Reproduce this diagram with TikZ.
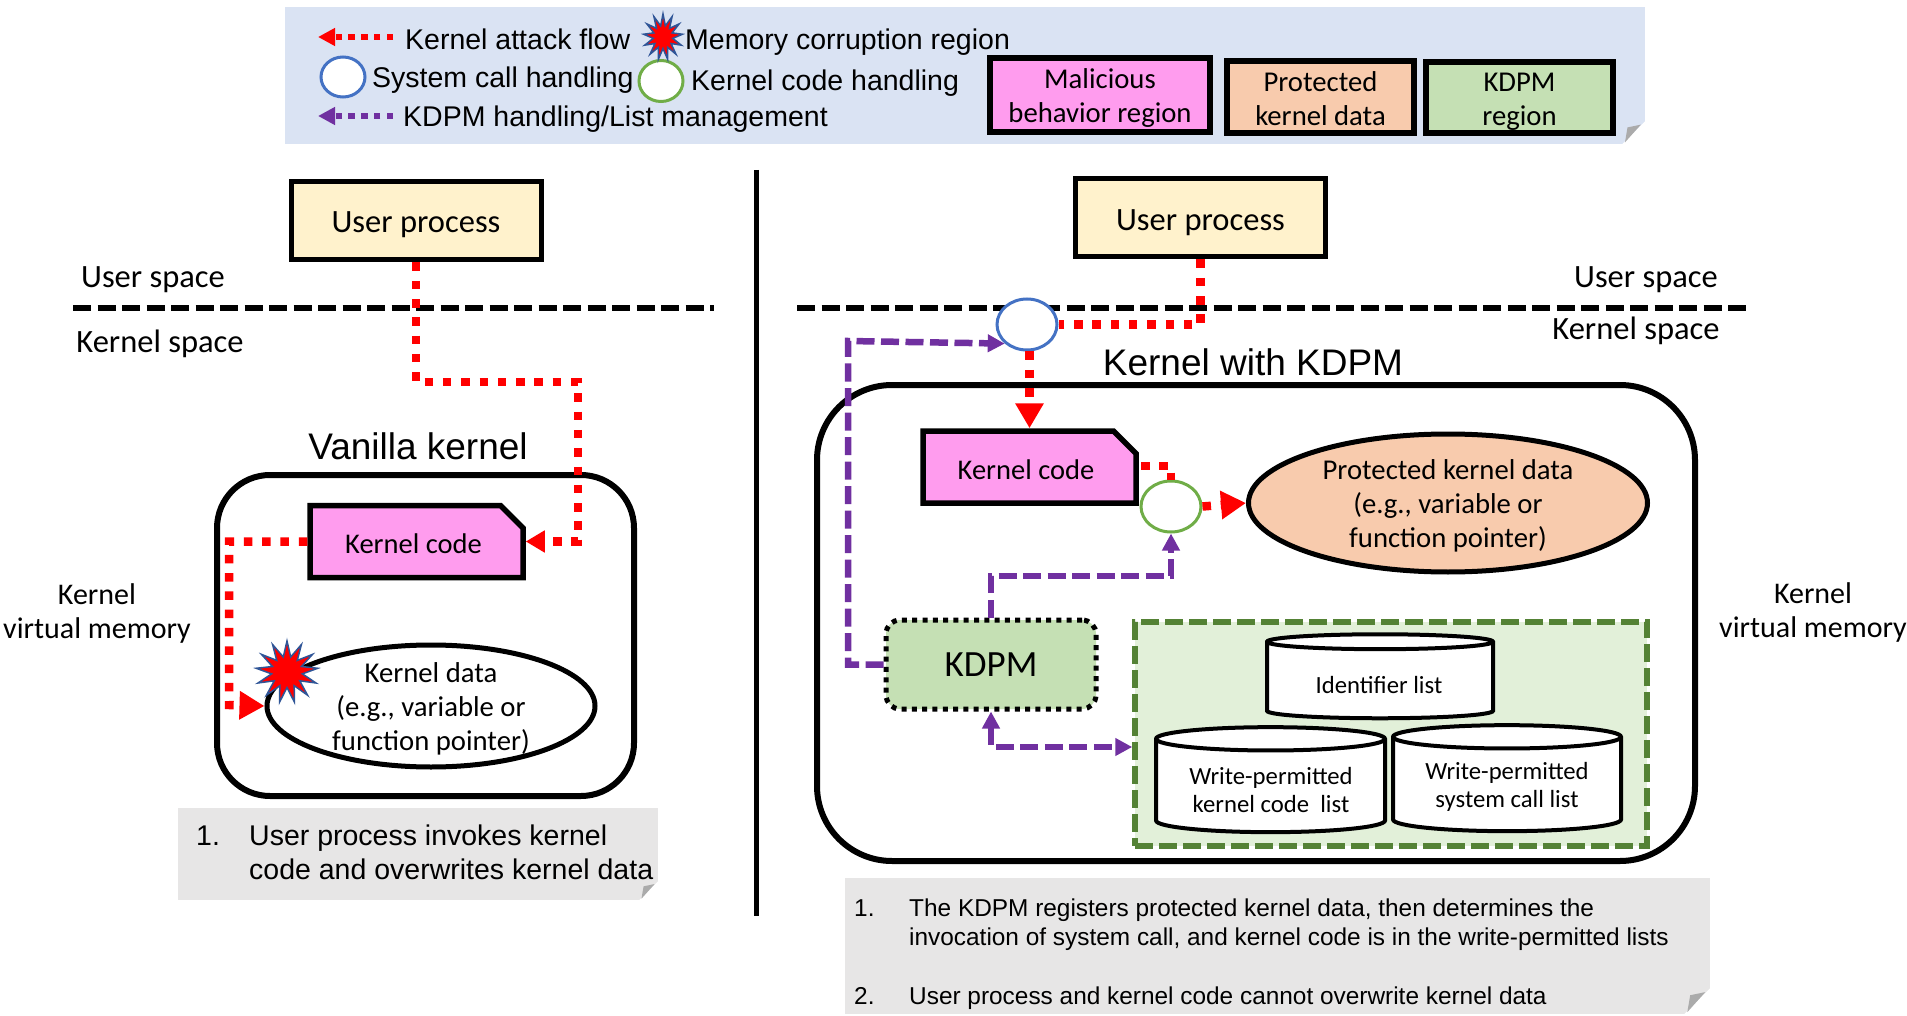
\documentclass[tikz,border=0pt]{standalone}
\usepackage{fontspec}
\setmainfont{Carlito}
\newfontfamily\arialfont{Liberation Sans}
\usetikzlibrary{positioning, arrows.meta, shapes.geometric, shapes.misc}

\definecolor{legendblue}{HTML}{DAE3F3}
\definecolor{maliciouspink}{HTML}{FF9CEE}
\definecolor{protectedorange}{HTML}{F8CBAD}
\definecolor{kdpmgreen}{HTML}{C5E0B4}
\definecolor{listgreen}{HTML}{E2F0D9}
\definecolor{listborder}{HTML}{548235}
\definecolor{useryellow}{HTML}{FFF2CC}
\definecolor{notegrey}{HTML}{E7E6E6}
\definecolor{flapgrey}{HTML}{ABABAB}
\definecolor{sysblue}{HTML}{4472C4}
\definecolor{codegreen}{HTML}{70AD47}
\definecolor{kdpmpurple}{HTML}{7030A0}
\definecolor{starblue}{HTML}{2F5597}

\tikzset{
    calibri/.style={font=\fontsize{#1}{34}\selectfont},
    arial/.style={font=\arialfont\fontsize{#1}{34}\selectfont},
    userbox/.style={draw, line width=5pt, fill=useryellow, minimum width=250pt, minimum height=78pt},
    legendbox/.style={draw, line width=6pt, inner sep=0pt},
    labeltext/.style={calibri=28.7, align=center, inner sep=0pt},
    listtext/.style={font=\fontsize{24.7}{28.5}\selectfont, align=center, inner sep=0pt},
    codebox/.style={chamfered rectangle, chamfered rectangle corners=north east, chamfered rectangle xsep=13pt, chamfered rectangle ysep=13pt,
        draw, line width=5.5pt, fill=maliciouspink, inner sep=0pt, minimum width=213pt, minimum height=72pt, calibri=27},
    kernelbox/.style={draw, line width=6pt, rounded corners=#1},
    kernelell/.style={ellipse, draw, line width=5pt, inner sep=0pt},
    listcyl/.style={cylinder, shape border rotate=90, draw, line width=4pt, fill=white, inner sep=0pt, align=center, font=\fontsize{23.5}{29}\selectfont},
    sysell/.style={ellipse, draw=sysblue, line width=3pt, fill=white, inner sep=0pt},
    codeell/.style={ellipse, draw=codegreen, line width=3pt, fill=white, inner sep=0pt},
    burst/.style={star, star points=13, star point ratio=2, draw=starblue, line width=1.5pt, fill=red, inner sep=0pt},
    attack/.style={draw=red, line width=8.5pt, dash pattern=on 8.5pt off 9.8pt},
    manage/.style={draw=kdpmpurple, line width=6.5pt, dash pattern=on 18pt off 6.5pt},
    legendflow/.style={line width=6pt, dash pattern=on 6.5pt off 6.2pt, -{Triangle[length=17pt,width=17pt]}},
    spaceline/.style={line width=5.5pt, dash pattern=on 18pt off 6.5pt},
    notebox/.style={rectangle, fill=notegrey, inner sep=0pt},
}

\begin{document}
\begin{tikzpicture}[x=1pt, y=-1pt]
    \useasboundingbox (0,0) rectangle (1907,1016);

    % legend
    \node[notebox, fill=legendblue, minimum width=1360pt, minimum height=137pt] (legend) at (965,75.5) {};
    \node[sysell, minimum width=44pt, minimum height=40pt] (legsys) at (343,77) {};
    \node[codeell, minimum width=44pt, minimum height=41pt] (legcode) at (661,81) {};
    \node[burst, minimum size=46pt, transform shape, xscale=0.85] (legburst) at (663,37) {};
    \node[arial=28.5, anchor=west, inner sep=0pt] (legattacktext) at (405,39) {Kernel attack flow};
    \node[arial=28.5, anchor=west, inner sep=0pt] (legbursttext) at (685,42) {Memory corruption region};
    \node[arial=28.5, anchor=west, inner sep=0pt] (legsystext) at (372,80) {System call handling};
    \node[arial=28.5, anchor=west, inner sep=0pt] (legcodetext) at (691,83) {Kernel code handling};
    \node[arial=28.5, anchor=west, inner sep=0pt] (legmanagetext) at (403,119) {KDPM handling/List management};
    \coordinate (legattacktip) at (318,37);
    \coordinate (legattackend) at (393,37);
    \coordinate (legmanagetip) at (318,116);
    \coordinate (legmanageend) at (393,116);
    \draw[legendflow, red] (legattackend) -- (legattacktip);
    \draw[legendflow, kdpmpurple] (legmanageend) -- (legmanagetip);
    \node[legendbox, fill=maliciouspink, minimum width=220pt, minimum height=74pt] (legmal) at (1100,95) {};
    \node[legendbox, fill=protectedorange, minimum width=187pt, minimum height=72pt] (legprot) at (1320.5,97) {};
    \node[legendbox, fill=kdpmgreen, minimum width=187pt, minimum height=71pt] (legkdpm) at (1519.5,97.5) {};
    \node[labeltext] (legmaltext) at ([yshift=-3.5pt]legmal) {Malicious\\behavior region};
    \node[labeltext] (legprottext) at ([yshift=-1.5pt]legprot) {Protected\\kernel data};
    \node[labeltext] (legkdpmtext) at ([yshift=-4.5pt]legkdpm) {KDPM\\region};

    % vanilla kernel side
    \node[userbox] (userleft) at (416,221) {};
    \node[calibri=32.5] (userlefttext) at ([yshift=-3.5pt]userleft) {User process};
    \node[calibri=32.5] (userspaceleft) at (153,279.5) {User space};
    \node[calibri=32.5] (kernelspaceleft) at (160,344) {Kernel space};
    \coordinate (lineleftstart) at (73,308);
    \coordinate (lineleftend) at (714,308);
    \draw[spaceline] (lineleftstart) -- (lineleftend);
    \node[kernelbox=53pt, minimum width=417pt, minimum height=321pt] (vanilla) at (425.5,635.5) {};
    \node[arial=37] (vanillatext) at (418,446) {Vanilla kernel};
    \node[codebox] (kcodeleft) at (416.5,541.5) {\phantom{Kernel code}};
    \node[calibri=28.5] (kcodelefttext) at ([xshift=-3pt,yshift=-2.5pt]kcodeleft) {Kernel code};
    \node[kernelell, fill=white, minimum width=328pt, minimum height=122pt] (kdataleft) at (431,706) {};
    \node[labeltext] (kdatalefttext) at ([yshift=-2.5pt]kdataleft) {Kernel data\\(e.g., variable or\\function pointer)};
    \node[burst, minimum size=62pt] (burstleft) at (287,672) {};
    \node[calibri=30, align=center] (memleft) at (97,613.5) {Kernel\\virtual memory};
    \coordinate (attackbenda) at (578,382);
    \coordinate (attackbendb) at (229,705);
    \draw[attack, -{Triangle[length=19pt,width=21pt]}] (userleft.south) |- (attackbenda) |- (kcodeleft.east);
    \draw[attack, -{Triangle[length=25pt,width=27pt]}] (kcodeleft.west) -| (attackbendb) -- (kdataleft.west);
    \node[notebox, minimum width=480pt, minimum height=92pt] (noteleft) at (418,854) {};
    \node[arial=28.5, anchor=base west, inner sep=0pt] (noteleftnum) at (196,845) {1.};
    \node[arial=28.5, anchor=base west, inner sep=0pt] (notelefta) at (249,845) {User process invokes kernel};
    \node[arial=28.5, anchor=base west, inner sep=0pt] (noteleftb) at (249,879) {code and overwrites kernel data};

    \coordinate (splittop) at (756,170);
    \coordinate (splitbottom) at (756,916);
    \draw[line width=5pt] (splittop) -- (splitbottom);

    % kdpm side
    \node[userbox] (userright) at (1200.5,218) {};
    \node[calibri=32.5] (userrighttext) at ([yshift=-4.5pt]userright) {User process};
    \node[calibri=32.5] (userspaceright) at (1646,279.5) {User space};
    \node[calibri=32.5] (kernelspaceright) at (1636,331) {Kernel space};
    \coordinate (linerightstart) at (797,308);
    \coordinate (linerightend) at (1746,308);
    \draw[spaceline] (linerightstart) -- (linerightend);
    \node[kernelbox=75pt, minimum width=878pt, minimum height=476pt] (kdpmkernel) at (1256,623) {};
    \node[arial=37] (kdpmkerneltext) at (1253,362) {Kernel with KDPM};
    \node[codebox] (kcoderight) at (1029.5,467) {\phantom{Kernel code}};
    \node[calibri=28.5] (kcoderighttext) at ([xshift=-3.5pt,yshift=-2.5pt]kcoderight) {Kernel code};
    \node[kernelell, fill=protectedorange, minimum width=399pt, minimum height=138pt] (kdataright) at (1448,503) {};
    \node[labeltext] (kdatarighttext) at ([yshift=-3pt]kdataright) {Protected kernel data\\(e.g., variable or\\function pointer)};
    \node[sysell, minimum width=60pt, minimum height=51pt] (syscall) at (1027,324.5) {};
    \node[codeell, minimum width=60pt, minimum height=51pt] (codecheck) at (1171,506.5) {};
    \node[draw, line width=5pt, dash pattern=on 5pt off 5.3pt, rounded corners=14pt, fill=kdpmgreen, minimum width=210pt, minimum height=89pt, font=\fontsize{37}{44}\selectfont] (kdpm) at (991,664.5) {KDPM};
    \node[draw=listborder, line width=5.5pt, dash pattern=on 18pt off 6pt, fill=listgreen, minimum width=512pt, minimum height=224pt] (listregion) at (1391,734) {};
    \node[listcyl, aspect=0.124, minimum width=226pt, minimum height=84pt] (idlist) at (1380,681) {\phantom{Identifier list}};
    \node[listcyl, aspect=0.15, minimum width=229pt, minimum height=105pt] (codelist) at (1270.5,786.5) {\phantom{Write-permitted}\\\phantom{kernel code list}};
    \node[listcyl, aspect=0.15, minimum width=228pt, minimum height=106pt] (sclist) at (1507,785) {\phantom{Write-permitted}\\\phantom{system call list}};
    \node[listtext] (idlisttext) at (1379,685) {Identifier list};
    \node[listtext] (codelisttext) at (1271,790) {Write-permitted\\kernel code\ \ list};
    \node[listtext] (sclisttext) at (1507,787) {Write-permitted\\system call list};
    \node[calibri=30, align=center] (memright) at (1813,612.5) {Kernel\\virtual memory};
    \coordinate (kcodestub) at (1141,466);
    \coordinate (managebenda) at (848,341);
    \coordinate (managebendb) at (1171,576);
    \draw[attack] (userright.south) |- (syscall.east);
    \draw[attack, -{Triangle[length=25pt,width=27pt]}] (syscall.south -| kcoderight.north) -- (kcoderight.north);
    \draw[attack] (kcodestub) -| (codecheck.north);
    \draw[attack, -{Triangle[length=25pt,width=27pt]}] (codecheck.east) -- (kdataright.west);
    \draw[manage, -{Triangle[length=17pt,width=17pt]}] (kdpm.west) -| (managebenda) -- (syscall.south west);
    \draw[manage, -{Triangle[length=17pt,width=17pt]}] (kdpm.north) |- (managebendb) -- (codecheck.south);
    \draw[manage, {Triangle[length=17pt,width=17pt]}-{Triangle[length=17pt,width=17pt]}] (kdpm.south) |- ([yshift=-13pt]listregion.west);
    \node[notebox, minimum width=865pt, minimum height=136pt] (noteright) at (1277.5,946) {};
    \node[arial=24.4, anchor=base west, inner sep=0pt] (noterightnum) at (854,916) {1.};
    \node[arial=24.4, anchor=base west, inner sep=0pt] (noterighta) at (909,916) {The KDPM registers protected kernel data, then determines the};
    \node[arial=24.4, anchor=base west, inner sep=0pt] (noterightb) at (909,945) {invocation of system call, and kernel code is in the write-permitted lists};
    \node[arial=24.4, anchor=base west, inner sep=0pt] (noterightnumb) at (854,1004) {2.};
    \node[arial=24.4, anchor=base west, inner sep=0pt] (noterightc) at (909,1004) {User process and kernel code cannot overwrite kernel data};

    % folded corners of the notes
    \foreach \n/\c in {legend/23,noteleft/19,noteright/26}{%
        \fill[white] ([yshift=\c pt]\n.east |- \n.south) -- (\n.east |- \n.south) -- ([xshift=-\c pt]\n.east |- \n.south) -- cycle;
        \fill[flapgrey] ([xshift=-0.77*\c pt,yshift=0.73*\c pt]\n.east |- \n.south) -- ([xshift=-0.19*\c pt,yshift=0.85*\c pt]\n.east |- \n.south) -- ([xshift=-0.88*\c pt,yshift=0.08*\c pt]\n.east |- \n.south) -- cycle;
    }
\end{tikzpicture}
\end{document}
